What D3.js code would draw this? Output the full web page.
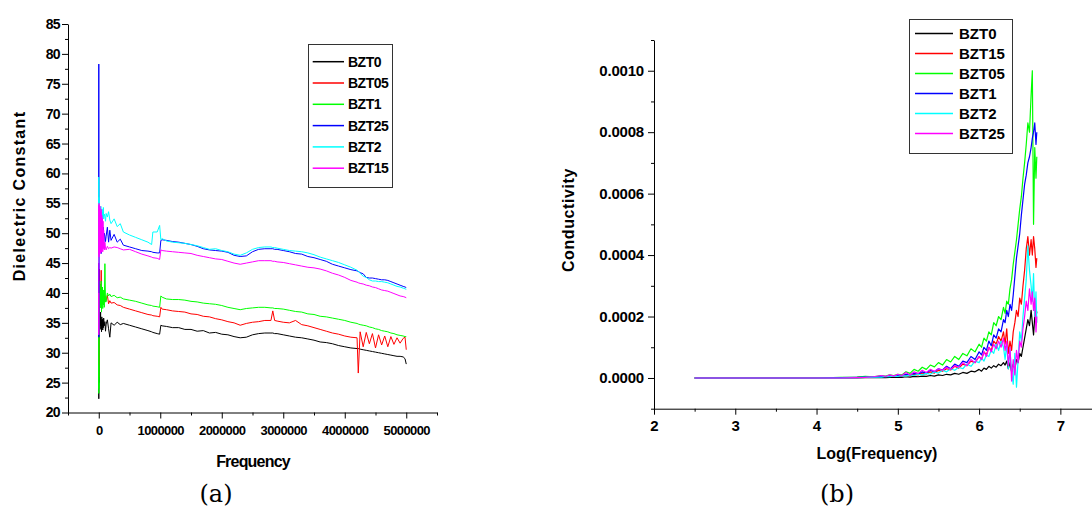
<!DOCTYPE html>
<html>
<head>
<meta charset="utf-8">
<script src="https://cdn.jsdelivr.net/npm/d3@7"></script>
<style>
  html, body { margin: 0; padding: 0; background: #fff; }
  svg { display: block; font-family: "Liberation Sans", Arial, sans-serif; }
  .tick text { font-weight: bold; }
</style>
</head>
<body>
<svg id="chart" width="1092" height="508"></svg>
<script>
// ---------- Panel (a): dielectric constant vs frequency ----------
const freqHz = [100, 1000, 2000, 3000, 5000, 8000, 12000, 16000, 20000, 25000,
  30000, 35000, 40000, 45000, 50000, 55000, 60000, 65000, 70000, 75000,
  80000, 90000, 100000, 110000, 120000, 140000, 160000, 180000, 200000, 250000,
  300000, 350000, 400000, 500000, 600000, 700000, 800000, 860000, 880000, 950000,
  990000, 1010000, 1030000, 1100000, 1200000, 1300000, 1400000, 1500000, 1600000, 1700000,
  1800000, 1900000, 2000000, 2100000, 2200000, 2300000, 2400000, 2500000, 2600000, 2700000,
  2800000, 2830000, 2860000, 2900000, 3000000, 3100000, 3200000, 3300000, 3400000, 3500000,
  3600000, 3700000, 3800000, 3900000, 4000000, 4100000, 4200000, 4220000, 4250000, 4300000,
  4350000, 4400000, 4450000, 4500000, 4550000, 4600000, 4650000, 4700000, 4750000, 4800000,
  4850000, 4900000, 4950000, 4980000, 5000000];

const dielBZT0 = [30, 22.3, 36.5, 25, 37, 34, 36.5, 33.8, 36, 34.5,
  36.8, 34, 35.5, 33.5, 36, 34.2, 35.6, 33.8, 35, 34.2,
  35.8, 34.5, 35.2, 33.6, 34.8, 35.5, 34.0, 32.6, 35.0, 34.6,
  35.1, 34.7, 34.9, 34.6, 34.3, 34.0, 33.7, 33.5, 33.4, 33.2,
  33.1, 34.6, 34.5, 34.4, 34.2, 34.2, 33.9, 33.9, 33.6, 33.7,
  33.3, 33.4, 33.1, 33.0, 32.7, 32.5, 32.6, 33.0, 33.2, 33.3,
  33.3, 33.3, 33.2, 33.2, 33.0, 32.8, 32.6, 32.5, 32.3, 32.1,
  31.8, 31.7, 31.5, 31.2, 31.0, 30.8, 30.7, 30.7, 30.6, 30.5,
  30.4, 30.3, 30.2, 30.1, 30.0, 29.9, 29.8, 29.7, 29.6, 29.5,
  29.4, 29.4, 29.3, 29.0, 28.1];
const dielBZT05 = [30, 25.9, 40, 28, 42, 38, 44, 39, 41.5, 38.5,
  40.8, 38, 43.8, 39.2, 41, 38.2, 40.5, 38.8, 40, 38.4,
  39.8, 38.5, 39.5, 38.6, 38.8, 39.6, 38.2, 38.7, 38.3, 38.4,
  38.0, 37.9, 37.6, 37.3, 37.0, 36.7, 36.4, 36.3, 36.2, 36.1,
  36.0, 37.6, 37.3, 37.2, 37.0, 36.9, 36.8, 36.5, 36.4, 36.1,
  36.0, 35.7, 35.5, 35.2, 35.0, 34.6, 34.9, 35.1, 35.2, 35.4,
  35.4, 37.0, 35.4, 35.3, 35.1, 35.0, 35.4, 34.7, 34.5, 34.2,
  33.9, 33.6, 33.3, 33.1, 32.8, 32.6, 32.5, 26.6, 33.5, 31.0,
  33.4, 31.5, 33.2, 30.8, 33.0, 31.3, 32.8, 31.0, 32.7, 31.4,
  32.5, 31.6, 32.4, 32.6, 30.5];
const dielBZT1 = [28, 23.2, 38, 24, 41, 36.5, 42, 38, 41.5, 37.5,
  40.5, 38, 42, 36.8, 40.8, 38.2, 41, 37.4, 40, 38,
  40.5, 37.6, 44.9, 38.5, 38.5, 40.0, 39.5, 39.8, 39.4, 39.6,
  39.2, 39.3, 39.0, 38.8, 38.6, 38.3, 38.0, 37.9, 37.8, 37.7,
  37.6, 39.5, 39.3, 39.0, 38.9, 38.9, 38.8, 38.6, 38.5, 38.3,
  38.2, 38.1, 37.9, 37.6, 37.4, 37.2, 37.4, 37.5, 37.6, 37.6,
  37.5, 37.5, 37.4, 37.4, 37.3, 37.1, 36.9, 36.8, 36.5, 36.4,
  36.1, 36.0, 35.8, 35.6, 35.4, 35.1, 34.9, 34.8, 34.7, 34.6,
  34.5, 34.3, 34.2, 34.0, 33.9, 33.7, 33.6, 33.5, 33.3, 33.2,
  33.0, 32.9, 32.8, 32.7, 32.7];
const dielBZT25 = [40, 78.3, 32.6, 52, 47, 53, 48, 51.5, 47, 52,
  48.5, 51, 46.6, 50.5, 48, 52, 47.5, 50.8, 48.2, 51,
  47.8, 50, 49.5, 48.6, 49.5, 51, 48.5, 50.5, 48.8, 49.8,
  48.5, 49, 48.0, 47.7, 47.4, 47.1, 47.0, 46.9, 46.8, 46.7,
  46.7, 48.8, 48.9, 48.8, 48.6, 48.5, 48.3, 48.1, 47.8, 47.4,
  47.2, 47.1, 47.0, 46.8, 46.3, 46.1, 46.2, 46.9, 47.3, 47.4,
  47.4, 47.4, 47.3, 47.3, 47.1, 46.9, 46.6, 46.5, 46.1, 45.9,
  45.6, 45.3, 44.8, 44.5, 44.2, 43.9, 43.7, 43.6, 43.4, 43.2,
  42.6, 42.5, 42.5, 42.4, 42.3, 42.2, 42.2, 42.1, 41.9, 41.7,
  41.5, 41.3, 41.1, 41.0, 40.9];
const dielBZT2 = [45, 59.4, 53, 56, 52.5, 55, 53, 54.5, 52.8, 54.2,
  52.5, 54.5, 52, 53.8, 52.6, 54, 52.2, 53.5, 52.8, 54.3,
  52.4, 53.2, 52.8, 52.0, 53.3, 52.7, 53.6, 52.2, 51.6, 52.4,
  51.1, 51.6, 50.2, 49.7, 49.3, 48.9, 48.5, 48.1, 50.2, 50.2,
  51.3, 48.9, 49.1, 48.7, 48.5, 48.4, 48.3, 48.1, 47.9, 47.6,
  47.3, 47.4, 47.1, 46.9, 46.5, 46.3, 46.7, 47.3, 47.6, 47.7,
  47.7, 47.6, 47.6, 47.5, 47.3, 47.1, 47.0, 46.9, 46.7, 46.4,
  46.0, 45.7, 45.4, 45.1, 44.7, 44.3, 43.8, 43.6, 43.3, 42.8,
  42.6, 42.2, 42.0, 42.0, 41.9, 41.9, 41.8, 41.7, 41.5, 41.3,
  41.1, 41.0, 40.8, 40.7, 40.6];
const dielBZT15 = [40, 33, 54.7, 46, 55, 46.5, 54, 47, 54.5, 46.6,
  53.5, 47.2, 54, 46.8, 53, 47.5, 52.5, 46.9, 52, 47.4,
  50.5, 47.2, 48.5, 47.5, 47.2, 47.8, 47.4, 47.6, 47.5, 47.7,
  47.6, 47.4, 47.2, 47.3, 46.9, 46.5, 46.2, 46.0, 45.9, 45.8,
  45.6, 47.2, 47.1, 47.0, 46.9, 46.8, 46.7, 46.6, 46.3, 46.1,
  45.9, 45.7, 45.6, 45.3, 45.0, 44.8, 45.0, 45.2, 45.4, 45.4,
  45.4, 45.3, 45.3, 45.2, 45.1, 44.9, 44.7, 44.5, 44.3, 44.2,
  44.0, 43.7, 43.3, 43.0, 42.6, 42.1, 41.8, 41.7, 41.6, 41.5,
  41.3, 41.2, 41.0, 40.9, 40.7, 40.5, 40.4, 40.3, 40.1, 39.9,
  39.7, 39.5, 39.4, 39.3, 39.2];

const seriesA = [
  { name: "BZT0",  color: "#000000", values: dielBZT0 },
  { name: "BZT05", color: "#ff0000", values: dielBZT05 },
  { name: "BZT1",  color: "#00ff00", values: dielBZT1 },
  { name: "BZT25", color: "#0000ff", values: dielBZT25 },
  { name: "BZT2",  color: "#00ffff", values: dielBZT2 },
  { name: "BZT15", color: "#ff00ff", values: dielBZT15 }
];
const yTicksA = [20, 25, 30, 35, 40, 45, 50, 55, 60, 65, 70, 75, 80, 85];
const xTicksA = [0, 1000000, 2000000, 3000000, 4000000, 5000000];

// ---------- Panel (b): conductivity vs log(frequency) ----------
const logFreq = [2.5, 3.0, 3.5, 4.0, 4.3, 4.5, 4.6, 4.7, 4.8, 4.85,
  4.9, 4.95, 5.0, 5.05, 5.1, 5.15, 5.2, 5.25, 5.3, 5.35,
  5.4, 5.45, 5.5, 5.55, 5.6, 5.65, 5.7, 5.75, 5.8, 5.85,
  5.9, 5.95, 6.0, 6.03, 6.06, 6.09, 6.12, 6.15, 6.18, 6.21,
  6.24, 6.27, 6.3, 6.32, 6.34, 6.36, 6.38, 6.40, 6.42, 6.44,
  6.46, 6.48, 6.50, 6.52, 6.54, 6.56, 6.58, 6.60, 6.62, 6.64,
  6.655, 6.67, 6.685, 6.70, 6.71];

// conductivity values in units of 1e-4
const condBZT0 = [0, 0, 0, 0, 0, 0, 0.01, 0.01, 0.02, 0.01,
  0.02, 0.02, 0.03, 0.02, 0.04, 0.03, 0.05, 0.04, 0.06, 0.05,
  0.08, 0.06, 0.1, 0.08, 0.12, 0.1, 0.15, 0.12, 0.18, 0.15,
  0.22, 0.2, 0.28, 0.22, 0.32, 0.28, 0.38, 0.32, 0.4, 0.35,
  0.45, 0.4, 0.5, 0.42, 0.55, 0.3, 0.5, 0.2, 0.45, 0.3,
  0.6, 0.5, 0.8, 0.7, 1.0, 1.3, 1.6, 1.9, 1.7, 2.2,
  1.8, 1.4, 2.0, 2.3, 2.1];
const condBZT15 = [0, 0, 0, 0, 0.01, 0.02, 0.04, 0.03, 0.06, 0.04,
  0.07, 0.05, 0.06, 0.08, 0.1, 0.08, 0.12, 0.1, 0.16, 0.13,
  0.2, 0.16, 0.25, 0.22, 0.3, 0.26, 0.38, 0.32, 0.45, 0.4,
  0.55, 0.5, 0.7, 0.6, 0.85, 0.75, 1.0, 0.9, 1.2, 1.1,
  1.35, 1.2, 1.5, 1.1, 1.6, 0.8, 1.2, 0.9, 1.5, 1.8,
  2.2, 2.0, 2.6, 2.4, 3.0, 3.5, 4.2, 4.6, 4.0, 4.5,
  4.0, 4.6, 4.2, 3.6, 3.9];
const condBZT05 = [0, 0, 0, 0, 0.02, 0.03, 0.05, 0.04, 0.08, 0.06,
  0.1, 0.08, 0.12, 0.1, 0.2, 0.15, 0.28, 0.22, 0.35, 0.28,
  0.42, 0.36, 0.5, 0.42, 0.6, 0.52, 0.7, 0.6, 0.8, 0.72,
  0.95, 0.85, 1.1, 1.0, 1.3, 1.2, 1.5, 1.4, 1.8, 1.7,
  2.0, 1.9, 2.3, 2.1, 2.5, 2.4, 2.9, 3.2, 3.7, 4.1,
  4.5, 5.0, 5.5, 5.9, 6.5, 7.0, 7.6, 8.3, 8.0, 9.2,
  10.0, 5.0, 7.5, 6.5, 7.2];
const condBZT1 = [0, 0, 0, 0, 0.01, 0.02, 0.03, 0.03, 0.05, 0.04,
  0.06, 0.05, 0.08, 0.07, 0.12, 0.1, 0.15, 0.12, 0.2, 0.16,
  0.25, 0.2, 0.3, 0.26, 0.38, 0.3, 0.45, 0.38, 0.55, 0.5,
  0.7, 0.6, 0.85, 0.75, 1.0, 0.9, 1.2, 1.05, 1.4, 1.3,
  1.6, 1.5, 1.9, 1.8, 2.2, 2.0, 2.4, 2.2, 2.7, 3.3,
  3.9, 4.3, 4.7, 5.3, 5.8, 6.3, 6.6, 7.0, 7.2, 7.5,
  7.8, 8.0, 8.3, 7.6, 8.0];
const condBZT2 = [0, 0, 0, 0, 0, 0.01, 0.02, 0.03, 0.03, 0.05,
  0.04, 0.06, 0.05, 0.08, 0.06, 0.1, 0.08, 0.12, 0.1, 0.15,
  0.12, 0.2, 0.16, 0.25, 0.2, 0.3, 0.25, 0.35, 0.3, 0.45,
  0.38, 0.55, 0.5, 0.65, 0.55, 0.75, 0.7, 0.9, 0.8, 1.1,
  0.9, 1.2, 1.0, 0.6, 1.1, 0.3, 0.9, 0.2, -0.2, 0.8,
  -0.3, 0.6, 1.5, 1.2, 2.0, 2.6, 3.2, 4.3, 3.5, 3.0,
  2.5, 3.4, 2.0, 2.8, 1.8];
const condBZT25 = [0, 0, 0, 0, 0, 0.01, 0.02, 0.04, 0.08, 0.05,
  0.1, 0.06, 0.12, 0.08, 0.18, 0.1, 0.2, 0.15, 0.25, 0.18,
  0.28, 0.22, 0.3, 0.25, 0.35, 0.28, 0.4, 0.35, 0.5, 0.4,
  0.6, 0.5, 0.7, 0.6, 0.85, 0.7, 1.0, 0.85, 1.1, 0.95,
  1.2, 1.0, 1.3, 0.9, 1.2, 0.4, 1.0, -0.1, 0.6, 0.1,
  0.9, 0.5, 1.2, 1.0, 1.6, 2.0, 2.5, 2.2, 2.9, 2.4,
  2.8, 2.2, 2.6, 1.5, 2.0];

const seriesB = [
  { name: "BZT0",  color: "#000000", values: condBZT0 },
  { name: "BZT15", color: "#ff0000", values: condBZT15 },
  { name: "BZT05", color: "#00ff00", values: condBZT05 },
  { name: "BZT1",  color: "#0000ff", values: condBZT1 },
  { name: "BZT2",  color: "#00ffff", values: condBZT2 },
  { name: "BZT25", color: "#ff00ff", values: condBZT25 }
];
const condUnit = 1e-4;
const yTicksB = [0, 0.0002, 0.0004, 0.0006, 0.0008, 0.0010];
const xTicksB = [2, 3, 4, 5, 6, 7];

// ---------- drawing ----------
const svg = d3.select("#chart");
svg.append("rect").attr("width", 1092).attr("height", 508).attr("fill", "#fff");

function styleAxis(g, fontSize, ls) {
  g.select(".domain").attr("stroke", "#000").attr("stroke-width", 1);
  g.selectAll(".tick line").attr("stroke", "#000");
  g.selectAll(".tick text").attr("fill", "#000")
    .style("font-size", fontSize + "px").style("letter-spacing", ls + "px");
}

// Panel A
(function () {
  const x = d3.scaleLinear().domain([-500000, 5500000]).range([68, 437]);
  const y = d3.scaleLinear().domain([20, 85]).range([412.5, 24]);
  const g = svg.append("g");

  const lineGen = d3.line().x((d) => x(d[0])).y((d) => y(d[1]));
  seriesA.forEach((s) => {
    const pts = freqHz.map((f, i) => [f, s.values[i]]).filter((d) => d[1] != null);
    g.append("path").attr("d", lineGen(pts)).attr("fill", "none")
      .attr("stroke", s.color).attr("stroke-width", 1).attr("stroke-linejoin", "round");
  });

  const yMinor = yTicksA.slice(0, -1).map((v) => v + 2.5);
  g.append("g").attr("transform", "translate(68,0)")
    .call(d3.axisLeft(y).tickValues(yMinor).tickSize(3).tickFormat(""))
    .call((a) => a.select(".domain").remove())
    .selectAll("line").attr("stroke", "#000");
  const xMinor = [-500000, 500000, 1500000, 2500000, 3500000, 4500000, 5500000];
  g.append("g").attr("transform", "translate(0,412.5)")
    .call(d3.axisBottom(x).tickValues(xMinor).tickSize(3).tickFormat(""))
    .call((a) => a.select(".domain").remove())
    .selectAll("line").attr("stroke", "#000");

  const ya = g.append("g").attr("transform", "translate(68,0)")
    .call(d3.axisLeft(y).tickValues(yTicksA).tickSize(6).tickSizeOuter(0).tickPadding(2).tickFormat(d3.format("d")));
  styleAxis(ya, 14, -0.6);
  const xa = g.append("g").attr("transform", "translate(0,412.5)")
    .call(d3.axisBottom(x).tickValues(xTicksA).tickSize(6).tickSizeOuter(0).tickPadding(7).tickFormat(d3.format("d")));
  styleAxis(xa, 13, -0.6);

  g.append("text").attr("transform", "translate(25,196) rotate(-90)")
    .attr("text-anchor", "middle").style("font-size", "16px").style("font-weight", "bold")
    .style("letter-spacing", "1.3px").text("Dielectric Constant");
  g.append("text").attr("x", 253).attr("y", 467).attr("text-anchor", "middle")
    .style("font-size", "16px").style("font-weight", "bold").style("letter-spacing", "-0.8px")
    .text("Frequency");
  g.append("text").attr("x", 216).attr("y", 502).attr("text-anchor", "middle")
    .style("font-family", "'DejaVu Serif', serif").style("font-size", "24px").text("(a)");

  const lg = g.append("g");
  lg.append("rect").attr("x", 308.5).attr("y", 44.5).attr("width", 84).attr("height", 143)
    .attr("fill", "#fff").attr("stroke", "#333").attr("stroke-width", 1);
  seriesA.forEach((s, i) => {
    const yy = 61.7 + i * 21.3;
    lg.append("line").attr("x1", 312.7).attr("x2", 344).attr("y1", yy).attr("y2", yy)
      .attr("stroke", s.color).attr("stroke-width", 1.5);
    lg.append("text").attr("x", 348).attr("y", yy).attr("dy", "0.36em")
      .style("font-size", "14px").style("font-weight", "bold").style("letter-spacing", "-0.5px")
      .text(s.name);
  });
})();

// Panel B
(function () {
  const x = d3.scaleLinear().domain([2, 7.5]).range([654, 1101]);
  const y = d3.scaleLinear().domain([-0.0001, 0.0011]).range([408.7, 40]);
  const g = svg.append("g");

  const lineGen = d3.line().x((d) => x(d[0])).y((d) => y(d[1]));
  seriesB.forEach((s) => {
    const pts = logFreq.map((f, i) => [f, s.values[i] * condUnit]).filter((d) => !isNaN(d[1]));
    g.append("path").attr("d", lineGen(pts)).attr("fill", "none")
      .attr("stroke", s.color).attr("stroke-width", 1.2).attr("stroke-linejoin", "round");
  });

  const yMinor = [-0.0001, 0.0001, 0.0003, 0.0005, 0.0007, 0.0009, 0.0011];
  g.append("g").attr("transform", "translate(654,0)")
    .call(d3.axisLeft(y).tickValues(yMinor).tickSize(3).tickFormat(""))
    .call((a) => a.select(".domain").remove())
    .selectAll("line").attr("stroke", "#000");
  const xMinor = [2.5, 3.5, 4.5, 5.5, 6.5, 7.5];
  g.append("g").attr("transform", "translate(0,408.7)")
    .call(d3.axisBottom(x).tickValues(xMinor).tickSize(3).tickFormat(""))
    .call((a) => a.select(".domain").remove())
    .selectAll("line").attr("stroke", "#000");

  const ya = g.append("g").attr("transform", "translate(654,0)")
    .call(d3.axisLeft(y).tickValues(yTicksB).tickSize(6).tickSizeOuter(0).tickPadding(4).tickFormat(d3.format(".4f")));
  styleAxis(ya, 15, -0.2);
  const xa = g.append("g").attr("transform", "translate(0,408.7)")
    .call(d3.axisBottom(x).tickValues(xTicksB).tickSize(6).tickSizeOuter(0).tickPadding(6).tickFormat(d3.format("d")));
  styleAxis(xa, 15, 0);

  g.append("text").attr("transform", "translate(574,220) rotate(-90)")
    .attr("text-anchor", "middle").style("font-size", "16px").style("font-weight", "bold")
    .style("letter-spacing", "0.6px").text("Conductivity");
  g.append("text").attr("x", 877).attr("y", 459).attr("text-anchor", "middle")
    .style("font-size", "16px").style("font-weight", "bold").text("Log(Frequency)");
  g.append("text").attr("x", 837).attr("y", 502).attr("text-anchor", "middle")
    .style("font-family", "'DejaVu Serif', serif").style("font-size", "24px").text("(b)");

  const lg = g.append("g");
  lg.append("rect").attr("x", 909.5).attr("y", 19.5).attr("width", 103).attr("height", 134)
    .attr("fill", "#fff").attr("stroke", "#333").attr("stroke-width", 1);
  seriesB.forEach((s, i) => {
    const yy = 33.5 + i * 20;
    lg.append("line").attr("x1", 915).attr("x2", 953).attr("y1", yy).attr("y2", yy)
      .attr("stroke", s.color).attr("stroke-width", 1.5);
    lg.append("text").attr("x", 959).attr("y", yy).attr("dy", "0.36em")
      .style("font-size", "15px").style("font-weight", "bold").text(s.name);
  });
})();
</script>
</body>
</html>
